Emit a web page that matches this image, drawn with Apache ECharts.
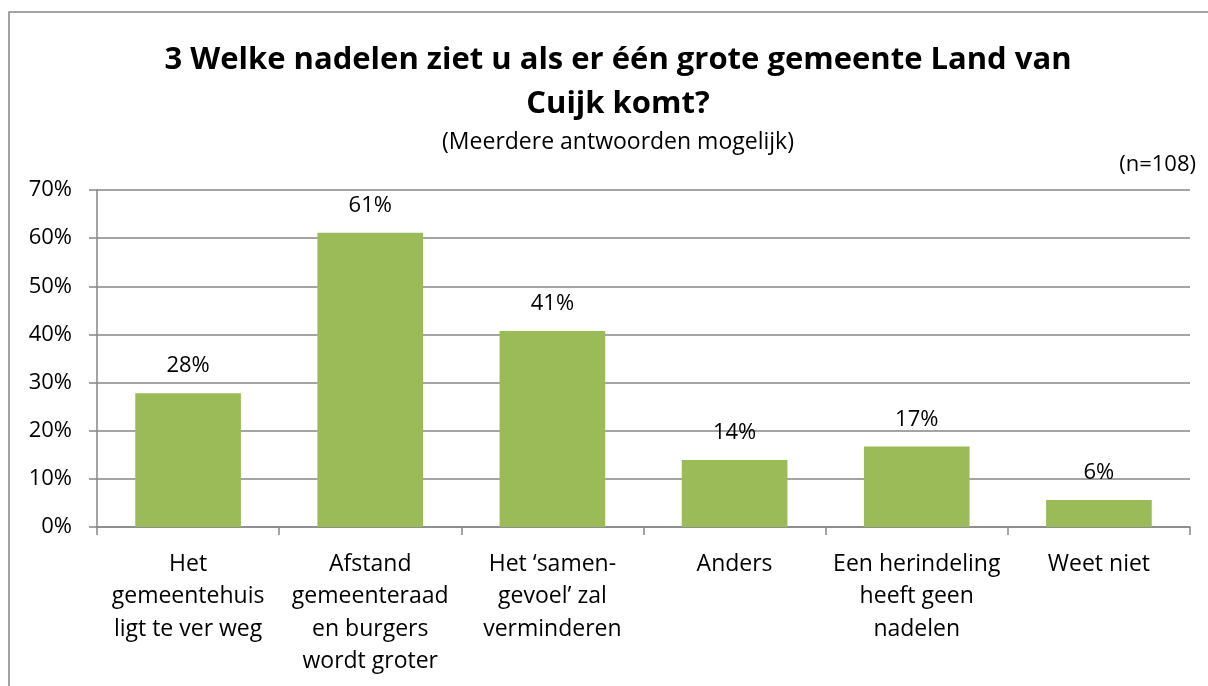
<!DOCTYPE html>
<html>
<head>
<meta charset="utf-8">
<script src="https://cdn.jsdelivr.net/npm/echarts@6/dist/echarts.min.js"></script>
<style>
  html, body { margin: 0; padding: 0; background: #fff; }
  #chart { width: 1208px; height: 686px; }
</style>
</head>
<body>
<div id="chart"></div>
<script>
const categories = [
  'Het\ngemeentehuis\nligt te ver weg',
  'Afstand\ngemeenteraad\nen burgers\nwordt groter',
  'Het \u2018samen-\ngevoel\u2019 zal\nverminderen',
  'Anders',
  'Een herindeling\nheeft geen\nnadelen',
  'Weet niet'
]
const values = [27.8, 61.1, 40.7, 13.9, 16.7, 5.6]
const yTicks = [0, 10, 20, 30, 40, 50, 60, 70]

const font = '"Open Sans", Lato, sans-serif'
const axisGrey = '#868686'

const chart = echarts.init(document.getElementById('chart'))

chart.setOption({
  animation: false,
  textStyle: { fontFamily: font },
  title: [
    {
      text: '3 Welke nadelen ziet u als er één grote gemeente Land van\nCuijk komt?',
      left: 613, top: 33, textAlign: 'center',
      textStyle: { fontSize: 31, fontWeight: 'bold', color: '#000', lineHeight: 44, fontFamily: font }
    },
    {
      text: '(Meerdere antwoorden mogelijk)',
      left: 613, top: 126, textAlign: 'center',
      textStyle: { fontSize: 23, fontWeight: 'normal', color: '#000', fontFamily: font }
    },
    {
      text: '(n=108)',
      right: 7, top: 149,
      textStyle: { fontSize: 22, fontWeight: 'normal', color: '#000', fontFamily: font }
    }
  ],
  graphic: [
    {
      type: 'rect',
      shape: { x: 9, y: 12, width: 1230, height: 700 },
      style: { fill: 'none', stroke: axisGrey, lineWidth: 1.5 },
      silent: true
    }
  ],
  grid: { left: 97, right: 18, top: 190, bottom: 159, containLabel: false },
  xAxis: {
    type: 'category',
    data: categories,
    axisLine: { lineStyle: { color: axisGrey, width: 1.5 } },
    axisTick: { show: true, length: 8, lineStyle: { color: axisGrey, width: 1.5 } },
    axisLabel: {
      color: '#000', fontSize: 23, lineHeight: 32.5, margin: 21, interval: 0,
      fontFamily: font
    }
  },
  yAxis: {
    type: 'value',
    min: yTicks[0],
    max: yTicks[yTicks.length - 1],
    interval: 10,
    axisLine: { show: true, lineStyle: { color: axisGrey, width: 1.5 } },
    axisTick: { show: true, length: 8, lineStyle: { color: axisGrey, width: 1.5 } },
    splitLine: { lineStyle: { color: axisGrey, width: 1.5 } },
    axisLabel: {
      color: '#000', fontSize: 22, margin: 25, fontFamily: font,
      formatter: v => v + '%'
    }
  },
  series: [
    {
      type: 'bar',
      data: values,
      barWidth: '58%',
      itemStyle: { color: '#9BBB59' },
      label: {
        show: true,
        position: 'top',
        distance: 16,
        color: '#000',
        fontSize: 22,
        fontFamily: font,
        formatter: p => Math.round(p.value) + '%'
      }
    }
  ]
})
</script>
</body>
</html>
